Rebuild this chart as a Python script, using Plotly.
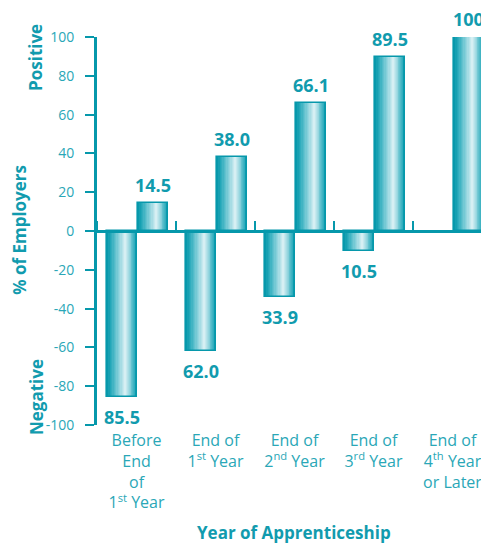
import plotly.graph_objects as go

# Survey: share of employers reporting a positive / negative net return
categories = ["Before End of 1st Year", "End of 1st Year", "End of 2nd Year",
              "End of 3rd Year", "End of 4th Year or Later"]
category_labels = ["Before<br>End<br>of<br>1<sup>st</sup> Year",
                   "End of<br>1<sup>st</sup> Year",
                   "End of<br>2<sup>nd</sup> Year",
                   "End of<br>3<sup>rd</sup> Year",
                   "End of<br>4<sup>th</sup> Year<br>or Later"]
negative_pct = [-85.5, -62.0, -33.9, -10.5, None]
positive_pct = [14.5, 38.0, 66.1, 89.5, 100]
y_ticks = [-100, -80, -60, -40, -20, 0, 20, 40, 60, 80, 100]

TEAL = "#0698ab"
TEAL_TEXT = "#119bae"
TICK_TEXT = "#2aa7b7"
FONT = "Open Sans"

# bar geometry in category units (one category = one slot)
BAR_W = 0.38
NEG_OFFSET = -0.373
POS_OFFSET = 0.019

# cylinder-like shading: nested layers shrinking toward the highlight
HIGHLIGHT = 0.62
shade_levels = [(0.0, (8, 153, 172)), (0.25, (52, 175, 191)), (0.6, (130, 206, 217)),
                (1.0, (214, 239, 243))]


def shade(f):
    for (f0, c0), (f1, c1) in zip(shade_levels[:-1], shade_levels[1:]):
        if f0 <= f <= f1:
            u = (f - f0) / (f1 - f0)
            r, g, b = (round(a + (b_ - a) * u) for a, b_ in zip(c0, c1))
            return f"rgb({r},{g},{b})"
    return "rgb(214,239,243)"


N_LAYERS = 14
fig = go.Figure()


def add_bar_series(values, offset):
    for k in range(N_LAYERS):
        left = HIGHLIGHT * k / N_LAYERS
        right = 1 - (1 - HIGHLIGHT) * k / N_LAYERS
        fig.add_trace(go.Bar(
            x=categories, y=values, offset=offset + left * BAR_W,
            width=(right - left) * BAR_W,
            marker=dict(color=shade(k / (N_LAYERS - 1)), line=dict(width=0)),
            hoverinfo="skip", showlegend=False))
    # outline
    fig.add_trace(go.Bar(
        x=categories, y=values, offset=offset, width=BAR_W,
        marker=dict(color="rgba(0,0,0,0)", line=dict(color=TEAL, width=1.6)),
        showlegend=False))


add_bar_series(negative_pct, NEG_OFFSET)
add_bar_series(positive_pct, POS_OFFSET)

# carrier for the zero-level category axis
fig.add_trace(go.Scatter(x=categories, y=[0] * len(categories), xaxis="x2",
                         mode="markers", marker=dict(opacity=0),
                         hoverinfo="skip", showlegend=False))

# value labels
value_font = dict(family=FONT, size=18, color=TEAL_TEXT, weight="bold")
annotations = []
for i, v in enumerate(positive_pct):
    if v is None:
        continue
    txt = "100" if v == 100 else f"{v:.1f}"
    annotations.append(dict(x=i + POS_OFFSET + BAR_W / 2, y=v, xref="x", yref="y",
                            text=txt, showarrow=False, yanchor="bottom", yshift=4,
                            font=value_font))
for i, v in enumerate(negative_pct):
    if v is None:
        continue
    annotations.append(dict(x=i + NEG_OFFSET + BAR_W / 2, y=v, xref="x", yref="y",
                            text=f"{abs(v):.1f}", showarrow=False, yanchor="top", yshift=-6,
                            font=value_font))

title_font = dict(family=FONT, size=17, color=TEAL_TEXT, weight="bold")
side_title = dict(x=0, xref="paper", yref="paper", textangle=-90, showarrow=False,
                  xanchor="center", yanchor="middle", font=title_font)
annotations += [
    dict(side_title, xshift=-61, y=0.946, text="Positive"),
    dict(side_title, xshift=-77, y=0.503, text="% of Employers"),
    dict(side_title, xshift=-61, y=0.072, text="Negative"),
    dict(x=2, xref="x", y=-0.278, yref="paper", text="Year of Apprenticeship",
         xanchor="center", yanchor="middle", showarrow=False,
         font=dict(family=FONT, size=17, color=TEAL_TEXT, weight="bold")),
]

fig.update_layout(
    width=481, height=546,
    margin=dict(l=97, r=0, t=37, b=121),
    paper_bgcolor="white", plot_bgcolor="white",
    barmode="overlay", bargap=0,
    xaxis=dict(type="category", range=[-0.5, 4.361], tickvals=categories,
               ticktext=category_labels, showline=False, ticks="", showgrid=False,
               zeroline=False, ticklabelstandoff=4,
               tickfont=dict(family=FONT, size=16, color=TICK_TEXT)),
    xaxis2=dict(type="category", overlaying="x", matches="x", anchor="free",
                position=0.5, side="top", showline=True, linecolor=TEAL, linewidth=2.5,
                ticks="outside", tickson="boundaries", ticklen=9, tickwidth=2,
                tickcolor=TEAL, showticklabels=False, showgrid=False, zeroline=False),
    yaxis=dict(range=[-100, 100], tickvals=y_ticks, ticktext=[str(v) for v in y_ticks],
               showline=True, linecolor=TEAL, linewidth=3, ticks="outside", ticklen=9,
               tickwidth=2, tickcolor=TEAL, showgrid=False, zeroline=False,
               ticklabelstandoff=8,
               tickfont=dict(family=FONT, size=14, color=TICK_TEXT)),
    annotations=annotations,
)

fig.write_html("out.html")
